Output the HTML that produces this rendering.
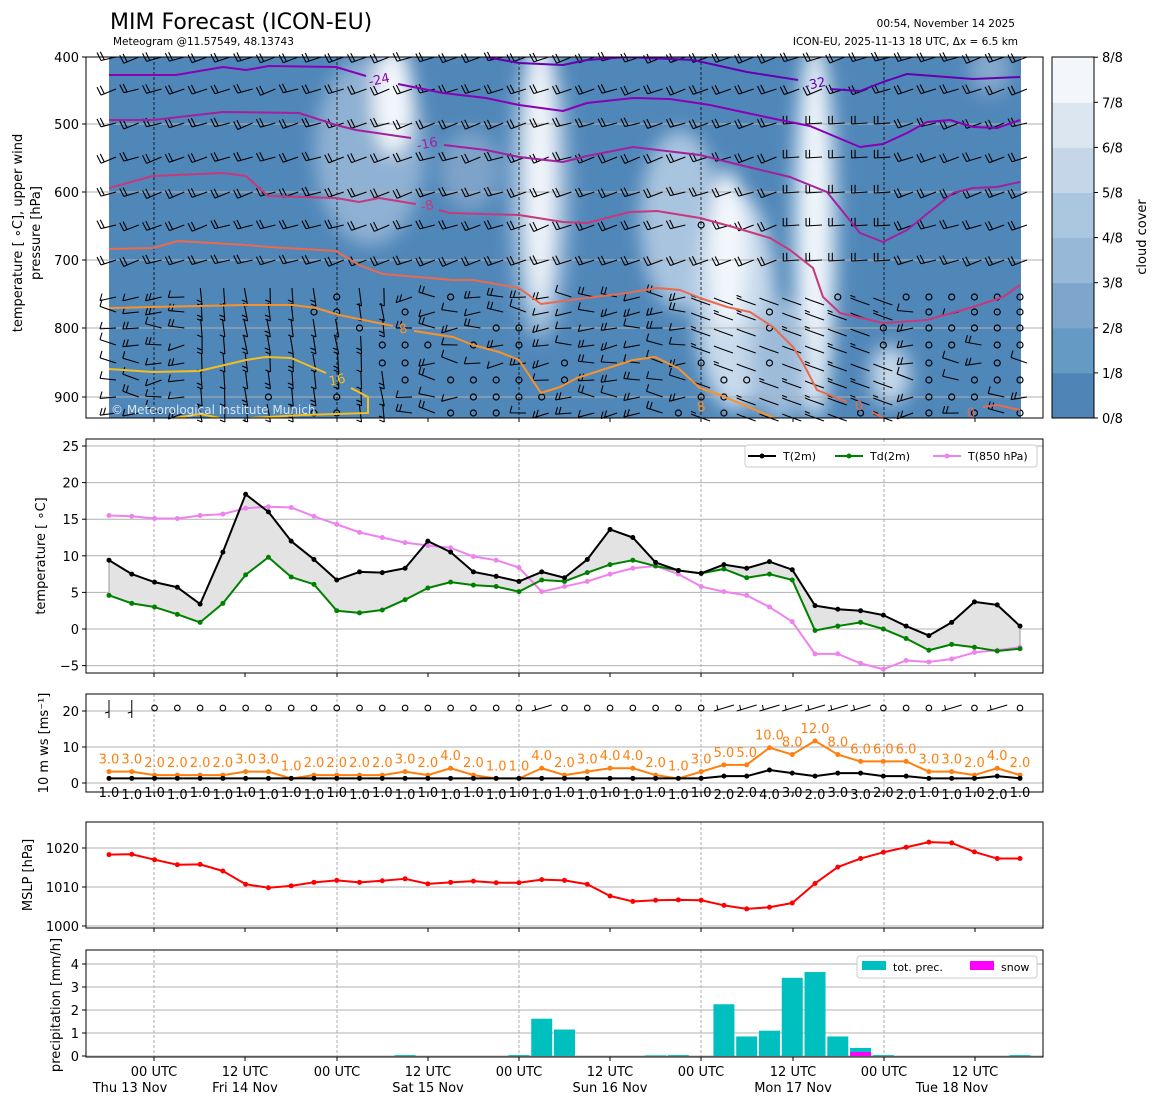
<!DOCTYPE html>
<html><head><meta charset="utf-8">
<style>
body{margin:0;background:#fff;}
svg{display:block;font-family:"DejaVu Sans","Liberation Sans",sans-serif;}
</style></head>
<body>
<svg id="s" width="1155" height="1105" viewBox="0 0 1155 1105" xmlns="http://www.w3.org/2000/svg">
<defs>
<filter id="bl" x="-50%" y="-50%" width="200%" height="200%"><feGaussianBlur stdDeviation="9"/></filter>
<clipPath id="cp"><rect x="109" y="57" width="912" height="361"/></clipPath>
</defs>
<text x="110" y="29" font-size="22">MIM Forecast (ICON-EU)</text>
<text x="113" y="45" font-size="10.5">Meteogram @11.57549, 48.13743</text>
<text x="1015" y="27" font-size="10.5" text-anchor="end">00:54, November 14 2025</text>
<text x="1018" y="45" font-size="10.5" text-anchor="end">ICON-EU, 2025-11-13 18 UTC, Δx = 6.5 km</text>

<g clip-path="url(#cp)">
<rect x="109" y="57" width="912" height="361" fill="#5087b9"/>
<g filter="url(#bl)">
<ellipse cx="370" cy="150" rx="55" ry="95" fill="#8fb1d3"/>
<ellipse cx="393" cy="100" rx="20" ry="55" fill="#f3f7fb"/>
<ellipse cx="540" cy="190" rx="30" ry="150" fill="#9fbedb"/>
<ellipse cx="540" cy="170" rx="14" ry="140" fill="#f5f8fc"/>
<ellipse cx="680" cy="220" rx="40" ry="90" fill="#a9c4df"/>
<ellipse cx="735" cy="300" rx="40" ry="110" fill="#c8daec"/>
<ellipse cx="728" cy="250" rx="18" ry="80" fill="#f4f8fc"/>
<ellipse cx="815" cy="230" rx="22" ry="190" fill="#cfe0ef"/>
<ellipse cx="815" cy="230" rx="10" ry="180" fill="#f7fafd"/>
<ellipse cx="890" cy="375" rx="20" ry="30" fill="#c5d8ea"/>
<ellipse cx="780" cy="360" rx="30" ry="60" fill="#9dbcda"/>
<ellipse cx="990" cy="70" rx="20" ry="25" fill="#86a9cd"/>
<ellipse cx="470" cy="170" rx="30" ry="40" fill="#7ea3c9"/>
</g>
</g>
<g id="tp"></g>
<rect x="86" y="57" width="957" height="361" fill="none" stroke="#000" stroke-width="1"/>
<g id="cb"></g>
<text transform="translate(22,233) rotate(-90)" font-size="13" text-anchor="middle">temperature [ ∘C], upper wind</text>
<text transform="translate(40,233) rotate(-90)" font-size="13" text-anchor="middle">pressure [hPa]</text>
<text transform="translate(1146,237) rotate(-90)" font-size="13" text-anchor="middle">cloud cover</text>

<g id="p2"></g>
<g id="p3"></g>
<g id="p4"></g>
<g id="p5"></g>
</svg>
<script>
(function(){
var S=document.getElementById('s'),NS='http://www.w3.org/2000/svg';
function el(p,t,a,txt){var e=document.createElementNS(NS,t);for(var k in a)e.setAttribute(k,a[k]);if(txt!==undefined)e.textContent=txt;(p||S).appendChild(e);return e;}
function X(i){return 109+i*22.775;}
var G=function(id){return document.getElementById(id);};
var utc=[154,337,519,701,884];
var ticks=[154,245,337,428,519,610,701,793,884,975];
var tp=G('tp');
[124,192,260,328,397].forEach(function(y){el(tp,'line',{x1:86,x2:1043,y1:y,y2:y,stroke:'#b0b0b0','stroke-width':1});});
utc.forEach(function(x){el(tp,'line',{x1:x,x2:x,y1:57,y2:418,stroke:'#000','stroke-width':0.8,'stroke-dasharray':'3,2'});});
[['400',57],['500',124],['600',192],['700',260],['800',328],['900',397]].forEach(function(a){el(tp,'line',{x1:82,x2:86,y1:a[1],y2:a[1],stroke:'#000'});el(tp,'text',{x:79,y:a[1]+5,'font-size':13,'text-anchor':'end'},a[0]);});
ticks.forEach(function(x){el(tp,'line',{x1:x,x2:x,y1:418,y2:422,stroke:'#000'});});
var rows=[57,89,123,157,192,225,260,297,312,328,345,363,380,397,413];
var seed=7;function rnd(){seed=(seed*16807)%2147483647;return seed/2147483647;}
for(var r=0;r<rows.length;r++){for(var i=0;i<41;i++){
 var y=rows[r];
 var calm=false;
 if(r>=7){var p=0.08;if(i<4)p=0;if((i>=11&&i<=18)&&r>=9)p=0.55;if(i>=36)p=0.7;if(i>=24&&i<=27&&r>=13)p=0.8;if(r>=13&&i>=8&&i<22)p=0.5;if(r>=10&&i>=29&&i<=34)p=0.1;calm=rnd()<p;}
 if(r==5&&i==26)calm=true;
 if(calm){el(tp,'circle',{cx:X(i),cy:y,r:3,fill:'none',stroke:'#000','stroke-width':1.2});continue;}
 var g=el(tp,'g',{stroke:'#000','stroke-width':1.1,fill:'none'});
 var x0=X(i)+7,y0=y,xe,ye,bdx,bdy,nb;
 if(r<7){
   var s=(rnd()-0.5)*6;
   if(i>=30&&i<=34&&r>=2){xe=x0-16;ye=y0+1;bdx=0;bdy=-8;}
   else{xe=x0-15;ye=y0+5+s*0.5;bdx=-4;bdy=-8;}
   nb=2;
 } else if((i>=4&&i<=12)||(i>=26&&i<=34)){
   x0=X(i)+(rnd()-0.5)*4;y0=y-9;xe=X(i)+(i>=26?-5:2);ye=y+9;
   if(i>=26){x0=X(i)-6;y0=y-9;xe=X(i)-5;ye=y+3;el(g,'line',{x1:xe,y1:ye,x2:xe+14,y2:ye+5});}
   bdx=-5;bdy=-2;nb=rnd()<0.5?1:2;
 } else {
   var a=(rnd()-0.5)*0.8;
   xe=x0-16;ye=y0+16*Math.sin(a);bdx=2;bdy=-7;nb=rnd()<0.5?1:2;
 }
 if(!(r>=7&&i>=26&&i<=34))el(g,'line',{x1:x0,y1:y0,x2:xe,y2:ye});
 for(var b=0;b<nb;b++){var t=b*3.5/16;var bx=xe+(x0-xe)*t,by=ye+(y0-ye)*t;el(g,'line',{x1:bx,y1:by,x2:bx+bdx,y2:by+bdy});}
}}
function pl(par,pts,col,w){el(par,'polyline',{points:pts.map(function(p){return p.join(',')}).join(' '),fill:'none',stroke:col,'stroke-width':w||2,'stroke-linejoin':'round'});}
var c=el(tp,'g',{'clip-path':'url(#cp)'});
pl(c,[[109,75],[176,75],[223,67],[246,70],[269,66],[336,67],[366,76]],'#8a00b5');
pl(c,[[398,84],[443,93],[486,98],[519,105],[563,111],[587,103],[633,98],[670,99],[710,105],[747,113],[780,120],[810,126],[860,147],[883,144],[907,133],[927,122],[950,120],[973,127],[997,128],[1020,120]],'#8a00b5');
pl(c,[[486,57],[519,63],[563,65],[587,60],[627,57],[693,60],[747,72],[798,80]],'#6600b0');
pl(c,[[830,89],[860,91],[883,82],[907,74],[973,79],[1020,77]],'#6600b0');
pl(c,[[109,120],[153,120],[223,112],[299,113],[336,125],[356,130],[411,138]],'#a3209f');
pl(c,[[444,145],[486,150],[519,157],[563,162],[587,156],[633,147],[700,155],[740,165],[790,177],[827,192],[860,233],[883,242],[907,230],[953,193],[973,188],[997,187],[1020,182]],'#a3209f');
pl(c,[[109,188],[153,176],[223,173],[246,176],[268,196],[336,198],[359,202],[379,198],[416,204]],'#c8387c');
pl(c,[[439,210],[449,213],[519,215],[563,222],[587,223],[630,212],[657,211],[700,218],[733,227],[770,238],[790,250],[813,268],[823,297],[840,313],[883,323],[927,320],[973,307],[1003,297],[1020,285]],'#c8387c');
pl(c,[[109,249],[153,248],[178,241],[246,245],[269,247],[336,251],[359,265],[383,274],[453,280],[473,280],[519,288],[541,304],[586,298],[627,293],[657,288],[680,290],[700,298],[727,307],[750,312],[773,327],[793,347],[803,363],[817,390],[847,402]],'#ea6a50');
pl(c,[[872,412],[885,419]],'#ea6a50');
pl(c,[[983,407],[997,405],[1020,410]],'#ea6a50');
pl(c,[[109,308],[153,307],[246,305],[293,305],[316,308],[339,315],[393,326]],'#f7922c');
pl(c,[[414,331],[453,337],[473,345],[499,352],[519,360],[541,393],[560,387],[577,378],[633,360],[655,357],[678,368],[700,388],[720,395],[777,419]],'#f7922c');
pl(c,[[109,369],[153,372],[199,371],[246,360],[266,357],[291,358],[326,373]],'#f5bd1e');
pl(c,[[351,388],[368,397],[368,413],[303,415],[250,418]],'#f5bd1e');
pl(c,[[175,418],[200,414],[220,418]],'#f5bd1e');
[['-24',380,84,'#8a00b5'],['-32',816,88,'#6600b0'],['-16',428,148,'#a3209f'],['-8',428,210,'#c8387c'],['8',404,333,'#f7922c'],['16',338,384,'#f5bd1e'],['0',860,410,'#ea6a50'],['0',972,417,'#ea6a50'],['8',702,411,'#f7922c']].forEach(function(a){el(tp,'text',{x:a[1],y:a[2],'font-size':13,fill:a[3],'text-anchor':'middle',transform:'rotate(-12 '+a[1]+' '+a[2]+')'},a[0]);});
el(tp,'text',{x:111,y:414,'font-size':12,fill:'#d8e4ef'},'© Meteorological Institute Munich');
var cb=G('cb');var cols=['#4e85b6','#659ac5','#7ea6cc','#97b8d6','#abc6df','#c4d6e8','#dbe6f1','#f3f7fb'];
for(var k=0;k<8;k++){el(cb,'rect',{x:1052,y:418-(k+1)*45.1,width:42,height:45.6,fill:cols[k]});}
el(cb,'rect',{x:1052,y:57,width:42,height:361,fill:'none',stroke:'#000'});
for(k=0;k<=8;k++){var yy=418-k*45.1;el(cb,'line',{x1:1094,x2:1098,y1:yy,y2:yy,stroke:'#000'});el(cb,'text',{x:1102,y:yy+5,'font-size':13},k+'/8');}

function frame(par,y0,y1){
 utc.forEach(function(x){el(par,'line',{x1:x,x2:x,y1:y0,y2:y1,stroke:'#999','stroke-width':0.8,'stroke-dasharray':'3,2'});});
 ticks.forEach(function(x){el(par,'line',{x1:x,x2:x,y1:y1,y2:y1+4,stroke:'#000'});});
}
function yt(par,y,lab,grid){ if(grid)el(par,'line',{x1:86,x2:1043,y1:y,y2:y,stroke:'#b0b0b0','stroke-width':1});el(par,'line',{x1:82,x2:86,y1:y,y2:y,stroke:'#000'});el(par,'text',{x:79,y:y+5,'font-size':13,'text-anchor':'end'},lab);}
function box(par,y0,y1){el(par,'rect',{x:86,y:y0,width:957,height:y1-y0,fill:'none',stroke:'#000'});}
function line(par,vals,fy,col,r){var pts=vals.map(function(v,i){return [X(i),fy(v)];});pl(par,pts,col,2);pts.forEach(function(p){el(par,'circle',{cx:p[0],cy:p[1],r:r||2.5,fill:col});});return pts;}

var p2=G('p2');frame(p2,439,673);
[25,20,15,10,5,0,-5].forEach(function(v){yt(p2,629-7.32*v,v<0?'−5':String(v),true);});
var T=[9.4,7.5,6.4,5.7,3.4,10.5,18.4,16,12,9.5,6.7,7.8,7.7,8.3,12,10.5,7.8,7.2,6.5,7.8,7.0,9.5,13.6,12.5,9.1,8,7.6,8.8,8.3,9.2,8.1,3.2,2.7,2.5,1.9,0.4,-0.9,0.9,3.7,3.3,0.4];
var Td=[4.6,3.5,3.0,2.0,0.9,3.5,7.4,9.8,7.1,6.1,2.5,2.2,2.6,4.0,5.6,6.4,6.0,5.8,5.1,6.7,6.5,7.7,8.8,9.4,8.6,8.0,7.6,8.2,7.0,7.5,6.7,-0.2,0.4,0.9,0.0,-1.3,-2.9,-2.1,-2.5,-3.0,-2.7];
var T8=[15.5,15.4,15.1,15.1,15.5,15.7,16.5,16.7,16.6,15.4,14.3,13.2,12.5,11.8,11.4,11.1,9.9,9.4,8.4,5.1,5.8,6.5,7.5,8.3,8.6,7.5,5.8,5.1,4.6,3.0,1.0,-3.4,-3.4,-4.7,-5.5,-4.3,-4.5,-4.1,-3.2,-2.9,-2.5];
var fT=function(v){return 629-7.32*v;};
var poly=T.map(function(v,i){return X(i)+','+fT(v);}).concat(Td.map(function(v,i){return X(i)+','+fT(v);}).reverse()).join(' ');
el(p2,'polygon',{points:poly,fill:'#e3e3e3',stroke:'#9a9a9a','stroke-width':1});
line(p2,T8,fT,'#ee82ee');line(p2,Td,fT,'#008000');line(p2,T,fT,'#000');
box(p2,439,673);
el(p2,'text',{transform:'translate(45,556) rotate(-90)','font-size':13,'text-anchor':'middle'},'temperature [ ∘C]');
var lg=el(p2,'g',{});el(lg,'rect',{x:745,y:445,width:292,height:22,fill:'#fff',stroke:'#ccc',rx:3});
[[748,'#000','T(2m)'],[835,'#008000','Td(2m)'],[933,'#ee82ee','T(850 hPa)']].forEach(function(a){el(lg,'line',{x1:a[0],x2:a[0]+28,y1:456,y2:456,stroke:a[1],'stroke-width':2});el(lg,'circle',{cx:a[0]+14,cy:456,r:2.5,fill:a[1]});el(lg,'text',{x:a[0]+35,y:460,'font-size':11},a[2]);});

var p3=G('p3');frame(p3,694,792);
var fW=function(v){return 783-3.6*v;};
[0,10,20].forEach(function(v){yt(p3,fW(v),String(v),true);});
var GL=[3,3,2,2,2,2,3,3,1,2,2,2,2,3,2,4,2,1,1,4,2,3,4,4,2,1,3,5,5,10,8,12,8,6,6,6,3,3,2,4,2];
var WL=[];for(var i=0;i<27;i++)WL.push(1);WL=WL.concat([2,2,4,3,2,3,3,2,2,1,1,1,2,1]);
var gp=line(p3,GL.map(function(v){return v*0.95+0.3;}),fW,'#ff7f0e');
var wp=line(p3,WL.map(function(v){return v==1?1.3:v*0.85+0.2;}),fW,'#000');
gp.forEach(function(p,i){el(p3,'text',{x:p[0],y:p[1]-8,'font-size':13,fill:'#ff7f0e','text-anchor':'middle'},GL[i].toFixed(1));});
wp.forEach(function(p,i){el(p3,'text',{x:p[0],y:797+(i%2)*2,'font-size':13,'text-anchor':'middle'},WL[i].toFixed(1));});
for(i=0;i<41;i++){var xx=X(i),yy=708;var cm=(i>=2&&i<=18)||(i>=20&&i<=26)||(i>=34&&i<=36)||i==38||i==40;
 if(cm){el(p3,'circle',{cx:xx,cy:yy,r:2.8,fill:'none',stroke:'#000','stroke-width':1.1});}
 else if(i<2){el(p3,'line',{x1:xx,x2:xx,y1:700,y2:718,stroke:'#000'});el(p3,'line',{x1:xx,x2:xx-4,y1:712,y2:713,stroke:'#000'});}
 else{el(p3,'line',{x1:xx-10,x2:xx+10,y1:yy+3,y2:yy-3,stroke:'#000','stroke-width':1.1});el(p3,'line',{x1:xx-6,x2:xx-7,y1:yy+2,y2:yy-3,stroke:'#000'});}
}
box(p3,694,792);
el(p3,'text',{transform:'translate(48,743) rotate(-90)','font-size':13,'text-anchor':'middle'},'10 m ws [ms⁻¹]');

var p4=G('p4');frame(p4,822,928);
var fP=function(v){return 887-3.9*(v-1010);};
[1000,1010,1020].forEach(function(v){yt(p4,fP(v),String(v),true);});
var P=[1018.3,1018.4,1017,1015.7,1015.8,1014.1,1010.7,1009.8,1010.3,1011.2,1011.7,1011.2,1011.6,1012.1,1010.8,1011.2,1011.5,1011.1,1011.1,1011.9,1011.7,1010.7,1007.7,1006.3,1006.6,1006.7,1006.6,1005.3,1004.4,1004.8,1005.9,1010.9,1015.1,1017.3,1018.9,1020.2,1021.5,1021.3,1019,1017.3,1017.3];
line(p4,P,fP,'#ff0000');
box(p4,822,928);
el(p4,'text',{transform:'translate(32,875) rotate(-90)','font-size':13,'text-anchor':'middle'},'MSLP [hPa]');

var p5=G('p5');frame(p5,950,1057);
var fR=function(v){return 1056-23*v;};
[0,1,2,3,4].forEach(function(v){yt(p5,fR(v),String(v),true);});
var bars={13:0.04,18:0.04,19:1.62,20:1.15,24:0.03,25:0.04,27:2.25,28:0.85,29:1.1,30:3.4,31:3.65,32:0.85,33:0.35,34:0.04,40:0.04};
for(var k2 in bars){var v=bars[k2],bx2=X(+k2);el(p5,'rect',{x:bx2-10.5,y:fR(v),width:21,height:1056-fR(v),fill:'#00bfbf'});}
el(p5,'rect',{x:X(33)-10.5,y:1052,width:21,height:4,fill:'#ff00ff'});
box(p5,950,1057);
el(p5,'text',{transform:'translate(60,1005) rotate(-90)','font-size':13,'text-anchor':'middle'},'precipitation [mm/h]');
el(p5,'rect',{x:857,y:956,width:180,height:22,fill:'#fff',stroke:'#ccc',rx:3});
el(p5,'rect',{x:862,y:961,width:24,height:9,fill:'#00bfbf'});el(p5,'text',{x:893,y:971,'font-size':11},'tot. prec.');
el(p5,'rect',{x:970,y:961,width:24,height:9,fill:'#ff00ff'});el(p5,'text',{x:1001,y:971,'font-size':11},'snow');
[[154,'00 UTC'],[245,'12 UTC'],[337,'00 UTC'],[428,'12 UTC'],[519,'00 UTC'],[610,'12 UTC'],[701,'00 UTC'],[793,'12 UTC'],[884,'00 UTC'],[975,'12 UTC']].forEach(function(a){el(p5,'text',{x:a[0],y:1076,'font-size':13,'text-anchor':'middle'},a[1]);});
[[130,'Thu 13 Nov'],[245,'Fri 14 Nov'],[428,'Sat 15 Nov'],[610,'Sun 16 Nov'],[793,'Mon 17 Nov'],[952,'Tue 18 Nov']].forEach(function(a){el(p5,'text',{x:a[0],y:1092,'font-size':13,'text-anchor':'middle'},a[1]);});
})();
</script>
</body></html>
